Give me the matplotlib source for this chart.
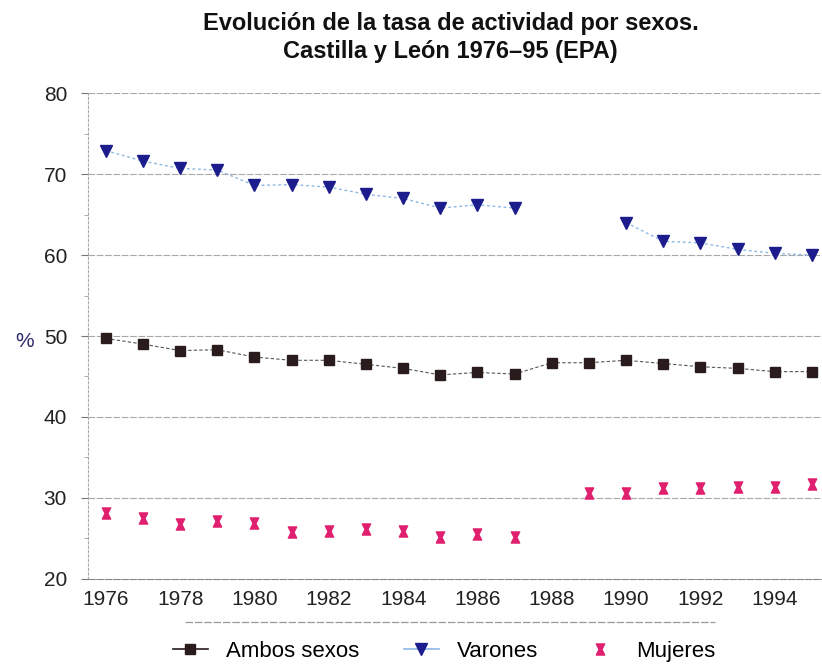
import numpy as np
import matplotlib
matplotlib.use("Agg")
import matplotlib.pyplot as plt
from matplotlib.path import Path
from matplotlib.lines import Line2D

plt.rcParams["font.family"] = ["Liberation Sans", "DejaVu Sans"]

years = list(range(1976, 1996))
# Tasa de actividad (%), NaN where the source shows no point
ambos = [49.7, 49.0, 48.2, 48.3, 47.4, 47.0, 47.0, 46.5, 46.0, 45.2,
         45.5, 45.3, 46.7, 46.7, 47.0, 46.6, 46.2, 46.0, 45.6, 45.6]
varones = [72.9, 71.6, 70.7, 70.5, 68.6, 68.7, 68.4, 67.5, 67.0, 65.8,
           66.2, 65.8, np.nan, np.nan, 64.0, 61.7, 61.5, 60.7, 60.2, 60.0]
mujeres = [28.1, 27.5, 26.8, 27.1, 26.9, 25.8, 25.9, 26.2, 25.9, 25.2,
           25.6, 25.2, np.nan, 30.6, 30.6, 31.2, 31.2, 31.3, 31.3, 31.7]
series_labels = ["Ambos sexos", "Varones", "Mujeres"]
title = "Evolución de la tasa de actividad por sexos.\nCastilla y León 1976–95 (EPA)"

# hourglass marker for Mujeres
hourglass = Path([(-0.75, 1), (0.75, 1), (0.25, 0), (0.75, -1), (-0.75, -1), (-0.25, 0), (-0.75, 1)],
                 [Path.MOVETO] + [Path.LINETO] * 5 + [Path.CLOSEPOLY])

fig = plt.figure(figsize=(8.22, 6.70), dpi=100)
ax = fig.add_axes([0.107, 0.136, 0.893, 0.725])

c_ambos = "#2a1c1c"
c_var = "#1c1c8c"
c_var_line = "#8cb8e6"
c_muj = "#e0206e"

ax.plot(years, ambos, color="#555555", lw=0.8, ls=(0, (3, 2)),
        marker="s", ms=7.5, mfc=c_ambos, mec=c_ambos, zorder=4)
ax.plot(years, varones, color=c_var_line, lw=1.0, ls=(0, (2, 2)),
        marker="v", ms=9, mfc=c_var, mec=c_var, zorder=4)
ax.plot(years, mujeres, ls="none", marker=hourglass, ms=8,
        mfc=c_muj, mec=c_muj, zorder=4)

ax.set_xlim(1975.52, 1995.27)
ax.set_ylim(20, 80)
ax.set_xticks(range(1976, 1995, 2))
ax.set_yticks(range(20, 81, 10))
ax.set_yticks(range(25, 80, 10), minor=True)
ax.tick_params(axis="both", labelsize=15, colors="#222222")
ax.tick_params(axis="x", length=0, pad=8)
ax.tick_params(axis="y", which="major", length=5, color="#777777", pad=10)
ax.tick_params(axis="y", which="minor", length=3, color="#999999")

for v in range(30, 81, 10):
    ax.axhline(v, color="#a8a8a8", lw=0.8, ls=(0, (6, 1.5)), zorder=1)
for s in ["top", "right"]:
    ax.spines[s].set_visible(False)
ax.spines["left"].set_color("#aaaaaa")
ax.spines["left"].set_linestyle((0, (2, 2)))
ax.spines["bottom"].set_color("#888888")
ax.spines["bottom"].set_linestyle((0, (6, 1.5)))

fig.text(0.03, 0.49, "%", fontsize=15, color="#2a2a6a", ha="center", va="center")
fig.text(0.548, 0.944, title, fontsize=17, fontweight="bold", ha="center",
         va="center", linespacing=1.3, color="#111111")

# legend with a dashed rule above it
fig.add_artist(Line2D([0.225, 0.87], [0.072, 0.072], color="#999999",
                      lw=0.9, ls=(0, (6, 1.5))))
handles = [
    Line2D([], [], color=c_ambos, lw=1.2, marker="s", ms=7, mfc=c_ambos),
    Line2D([], [], color=c_var_line, lw=1.2, marker="v", ms=8, mfc=c_var, mec=c_var),
    Line2D([], [], ls="none", marker=hourglass, ms=8, mfc=c_muj, mec=c_muj),
]
fig.legend(handles, series_labels, loc="center", bbox_to_anchor=(0.54, 0.028),
           ncol=3, frameon=False, fontsize=16, handlelength=1.6,
           columnspacing=2.0, handletextpad=0.8)

fig.savefig("out.png", dpi=100)
